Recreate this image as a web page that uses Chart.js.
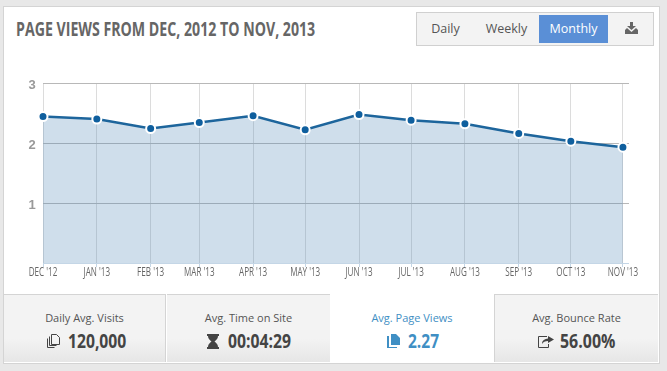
<!DOCTYPE html>
<html>
<head>
<meta charset="utf-8">
<script src="https://cdn.jsdelivr.net/npm/chart.js@4"></script>
<style>
html, body { margin: 0; padding: 0; width: 667px; height: 371px; overflow: hidden; background: #e8e8e8; }
body { font-family: "Open Sans", sans-serif; position: relative; }
#panel { position: absolute; left: 3px; top: 6px; width: 655px; height: 356px; background: #fff; border: 1px solid #d4d4d4; }
.fit { position: absolute; transform-origin: left center; white-space: nowrap; font-weight: bold; }
#title { left: 16px; top: 15px; font-size: 19.5px; color: #666; }
#tabs { position: absolute; left: 416px; top: 12px; width: 236px; height: 32px; background: #f3f3f3; border: 1px solid #d0d0d0; font-size: 12.5px; color: #555; }
#tabs span { position: absolute; top: 2px; height: 28px; line-height: 28px; text-align: center; }
#tabs .on { background: #5a8fd6; color: #fff; }
#tabs svg { position: absolute; left: 208px; top: 9px; }
#chartBox { position: absolute; left: 4px; top: 70px; width: 651px; height: 222px; }
.tile { position: absolute; top: 294px; height: 68px; box-sizing: border-box; border-top: 1px solid #d4d4d4; background: linear-gradient(#f3f3f3 65%, #e6e6e6); text-align: center; color: #555; }
.tile .lbl { font-size: 11px; margin-top: 15px; line-height: 16px; }
.tile.active { background: #fff; border-top: 0; color: #3f8fc4; }
.tile.active .lbl { margin-top: 16px; }
.val { top: 327px; font-size: 20px; line-height: 28px; color: #444; }
.val.active { color: #3f8fc4; }
.ico { position: absolute; }
</style>
</head>
<body>
<div id="panel"></div>
<div id="title" class="fit" data-w="299">PAGE VIEWS FROM DEC, 2012 TO NOV, 2013</div>
<div id="tabs">
  <span style="left:0;width:57px">Daily</span>
  <span style="left:57px;width:65px">Weekly</span>
  <span class="on" style="left:122px;width:69px">Monthly</span>
  <svg width="13" height="12" viewBox="0 0 13 12"><path d="M5 0h3v4h3L6.500 8 2 4h3zM0 8l2-2 4.500 4L11 6l2 2v4H0z" fill="#666"/></svg>
</div>
<div id="chartBox"><canvas id="pageViews"></canvas></div>

<div class="tile" style="left:4px;width:162px;border-right:1px solid #d4d4d4"><div class="lbl">Daily Avg. Visits</div></div>
<div class="tile" style="left:167px;width:163px"><div class="lbl">Avg. Time on Site</div></div>
<div class="tile active" style="left:330px;width:164px"><div class="lbl">Avg. Page Views</div></div>
<div class="tile" style="left:494px;width:164px;border-left:1px solid #d4d4d4"><div class="lbl">Avg. Bounce Rate</div></div>

<svg class="ico" style="left:47px;top:334px" width="13" height="14" viewBox="0 0 13 14"><path d="M4.500.500h5l3 3v7h-8zM2.500 2.500v9h7M.500 4.500v9h7" fill="none" stroke="#444"/></svg>
<div class="fit val" style="left:68px" data-w="58">120,000</div>
<svg class="ico" style="left:207px;top:334px" width="12" height="15" viewBox="0 0 12 15"><path d="M0 0h12v2h-1c0 3-2 4-3.500 5.500C9 9 11 10 11 13h1v2H0v-2h1c0-3 2-4 3.500-5.500C3 6 1 5 1 2H0z" fill="#444"/></svg>
<div class="fit val" style="left:228px" data-w="63">00:04:29</div>
<svg class="ico" style="left:387px;top:334px" width="13" height="14" viewBox="0 0 13 14"><path d="M4 0h5l4 4v7H4zM2 2v11h8v1H0V2z" fill="#3f8fc4"/></svg>
<div class="fit val active" style="left:408px" data-w="31">2.27</div>
<svg class="ico" style="left:538px;top:335px" width="16" height="13" viewBox="0 0 16 13"><path d="M9 1.500H.500v11h10V9" fill="none" stroke="#444"/><path d="M10 1l6 3.500L10 8V6C7 6 5 7 4 9c0-4 3-5 6-5.500z" fill="#444"/></svg>
<div class="fit val" style="left:560px" data-w="55">56.00%</div>

<script>
// Tick labels and days since Dec 1 2012 (the points are spaced by calendar days)
const monthLabels = ["DEC '12", "JAN '13", "FEB '13", "MAR '13", "APR '13", "MAY '13", "JUN '13", "JUL '13", "AUG '13", "SEP '13", "OCT '13", "NOV '13"];
const dayOffsets = [0, 31, 62, 90, 121, 151, 182, 212, 243, 274, 304, 334];
const pageViews = [2.44, 2.40, 2.24, 2.34, 2.455, 2.22, 2.475, 2.38, 2.32, 2.16, 2.03, 1.93];
const yTicks = [0, 1, 2, 3];

// No condensed font installed, so squeeze the bold text horizontally
document.querySelectorAll('.fit').forEach(el => {
    el.style.transform = 'scaleX(' + el.dataset.w / el.offsetWidth + ')';
});

// Draws the tick labels so the month names can be condensed too
const tickLabels = {
    id: 'tickLabels',
    afterDraw(chart) {
        const c = chart.ctx;
        const { x, y } = chart.scales;
        c.save();
        c.textAlign = 'center';
        c.textBaseline = 'middle';
        c.fillStyle = '#666';
        c.font = '13.5px "Open Sans", sans-serif';
        x.ticks.forEach((t, i) => {
            c.save();
            c.translate(x.getPixelForValue(t.value), 202);
            c.scale(0.6, 1);
            c.fillText(monthLabels[i], 0, 0);
            c.restore();
        });
        c.fillStyle = '#999';
        c.font = 'bold 13px "Liberation Sans", sans-serif';
        y.ticks.forEach(t => {
            if (t.value > 0) c.fillText(t.value, 28, y.getPixelForValue(t.value) + 2.5);
        });
        c.restore();
    }
};

const ctx = document.getElementById('pageViews').getContext('2d');
new Chart(ctx, {
    type: 'line',
    data: {
        datasets: [{
            data: dayOffsets.map((d, i) => ({ x: d, y: pageViews[i] })),
            borderColor: '#1d659c',
            borderWidth: 2.5,
            backgroundColor: 'rgba(90, 140, 185, 0.29)',
            fill: 'origin',
            tension: 0,
            clip: false,
            pointRadius: 4.5,
            pointBorderWidth: 2,
            pointBackgroundColor: '#0f5f9e',
            pointBorderColor: '#fff'
        }]
    },
    plugins: [tickLabels],
    options: {
        responsive: true,
        maintainAspectRatio: false,
        animation: false,
        layout: { padding: { top: 13, right: 26, left: 0, bottom: 0 } },
        plugins: { legend: { display: false }, tooltip: { enabled: false } },
        scales: {
            x: {
                type: 'linear',
                min: 0,
                max: 337.5,
                afterBuildTicks: axis => { axis.ticks = dayOffsets.map(d => ({ value: d })); },
                afterFit: axis => { axis.height = 29; },
                border: { display: false },
                grid: { color: '#dcdcdc', tickColor: '#c4d6e6', tickLength: 4 },
                ticks: { display: false }
            },
            y: {
                min: 0,
                max: 3,
                afterBuildTicks: axis => { axis.ticks = yTicks.map(v => ({ value: v })); },
                afterFit: axis => { axis.width = 39; },
                border: { display: false },
                grid: {
                    drawTicks: false,
                    color: c => c.tick.value === 0 ? '#c4d6e6' : '#b8b8b8'
                },
                ticks: { display: false }
            }
        }
    }
});
</script>
</body>
</html>
